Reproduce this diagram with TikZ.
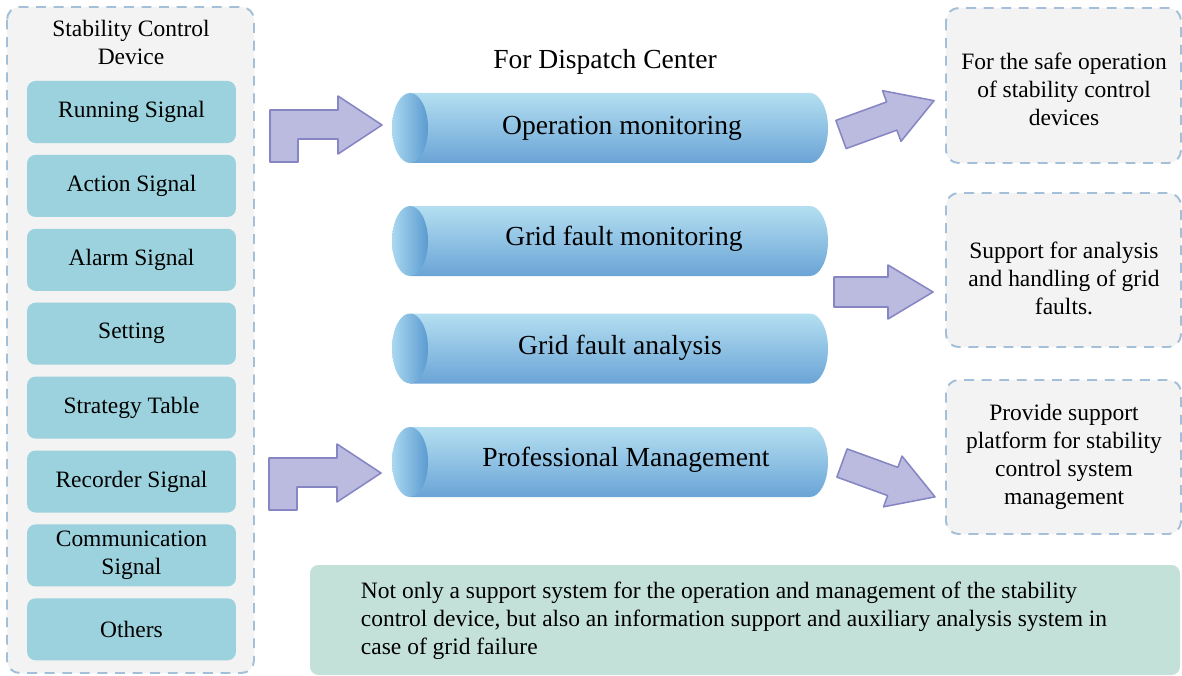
\documentclass[tikz,border=0pt]{standalone}
\usepackage{fontspec}
\setmainfont{LiberationSerif}[Extension=.ttf, UprightFont=*-Regular, BoldFont=*-Bold]
\usetikzlibrary{positioning,calc}

\definecolor{panelfill}{HTML}{F3F3F3}
\definecolor{dashblue}{HTML}{A4BFD8}
\definecolor{signalfill}{HTML}{9BD2DD}
\definecolor{arrowfill}{HTML}{BBBBDF}
\definecolor{arrowline}{HTML}{8686C4}
\definecolor{cyltop}{HTML}{B4DFF1}
\definecolor{cylbot}{HTML}{6AA4D6}
\definecolor{capleft}{HTML}{AAD8EF}
\definecolor{capright}{HTML}{5B9BD1}
\definecolor{notefill}{HTML}{C3E1D8}

\tikzset{
  panel/.style={draw=dashblue, fill=panelfill, line width=1.4pt,
    dash pattern=on 7pt off 5.5pt, rounded corners=9pt},
  signal/.style={fill=signalfill, rounded corners=6pt, align=center,
    minimum width=5.22cm, minimum height=1.55cm, inner sep=0pt},
  cyltext/.style={font=\fontsize{19.6}{23}\selectfont},
  boxtext/.style={align=center},
  blockarrow/.style={fill=arrowfill, draw=arrowline, line width=1.1pt, line join=round},
  bendarrow/.pic={\draw[blockarrow] (0,0) -- (-44,-29) -- (-44,-15) -- (-112,-15)
    -- (-112,37) -- (-84,37) -- (-84,14) -- (-44,14) -- (-44,29) -- cycle;},
  straightarrow/.pic={\draw[blockarrow] (0,-15) -- (54,-15) -- (54,-27) -- (99,0)
    -- (54,27) -- (54,15) -- (0,15) -- cycle;}
}

\begin{document}
\begin{tikzpicture}[x=0.025cm, y=-0.025cm, node distance=0.283cm,
  font=\fontsize{16.7}{19.9}\selectfont]
  \useasboundingbox (0,0) rectangle (1182,676);

  % left column
  \draw[panel] (7,7) rectangle (254,673);
  \node[boxtext] (title) at (131,42) {Stability Control\\Device};
  \node[signal] (run) at (131.5,112) {Running Signal};
  \node[signal, below=of run] (act) {Action Signal};
  \node[signal, below=of act] (alarm) {Alarm Signal};
  \node[signal, below=of alarm] (set) {Setting};
  \node[signal, below=of set] (strat) {Strategy Table};
  \node[signal, below=of strat] (rec) {Recorder Signal};
  \node[signal, below=of rec] (comm) {Communication\\Signal};
  \node[signal, below=of comm] (oth) {Others};

  % cylinders
  \foreach \yc in {128,241,348.5,462} {
    \shade[top color=cyltop, bottom color=cylbot] (410,\yc-35) -- (810,\yc-35)
      arc[start angle=-90, end angle=90, x radius=18, y radius=35] -- (410,\yc+35) -- cycle;
    \shade[left color=capleft, right color=capright] (410,\yc) ellipse [x radius=18, y radius=35];
  }
  \node[cyltext] (disp) at (605,62) {For Dispatch Center};
  \node[cyltext] (opmon) at (622,128) {Operation monitoring};
  \node[cyltext] (faultmon) at (624,239) {Grid fault monitoring};
  \node[cyltext] (faultana) at (620,348) {Grid fault analysis};
  \node[cyltext] (profman) at (626,460) {Professional Management};

  % block arrows
  \pic at (382,125) {bendarrow};
  \pic at (381,473) {bendarrow};
  \pic[rotate=20] at (841,134.5) {straightarrow};
  \pic at (834,292) {straightarrow};
  \pic[rotate=-20] at (842,463) {straightarrow};

  % right column
  \draw[panel] (946,8) rectangle (1181,163);
  \draw[panel] (946,193) rectangle (1181,347);
  \draw[panel] (946,380) rectangle (1181,534);
  \node[boxtext] (safe) at (1064,89.5) {For the safe operation\\of stability control\\devices};
  \node[boxtext] (support) at (1064,278) {Support for analysis\\and handling of grid\\faults.};
  \node[boxtext] (platform) at (1064,457) {Provide support\\platform for stability\\control system\\management};

  % note
  \fill[notefill, rounded corners=6pt] (310,565) rectangle (1180,675);
  \node[align=left, anchor=west] (note) at (356,621) {Not only a support system for the operation and management of the stability\\control device, but also an information support and auxiliary analysis system in\\case of grid failure};
\end{tikzpicture}
\end{document}
